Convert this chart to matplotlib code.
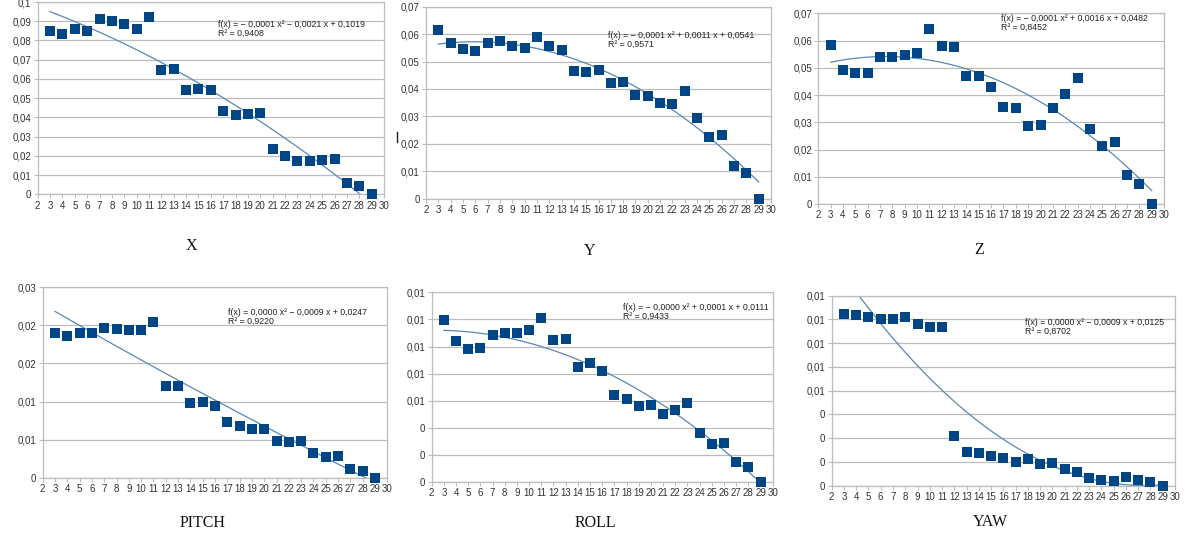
import numpy as np
import matplotlib
matplotlib.use("Agg")
import matplotlib.pyplot as plt

W, H = 1187, 540

# sample index on the x axis (same for every panel)
steps = np.arange(3, 30)

x_err = [0.0848, 0.0832, 0.0858, 0.0849, 0.0911, 0.0902, 0.0888, 0.0862, 0.0924,
         0.0647, 0.0652, 0.0541, 0.0549, 0.0544, 0.0433, 0.0410, 0.0419, 0.0422,
         0.0235, 0.0197, 0.0173, 0.0173, 0.0176, 0.0181, 0.0061, 0.0044, 0.0]
y_err = [0.0616, 0.0567, 0.0547, 0.0537, 0.0567, 0.0575, 0.0555, 0.0549, 0.0590,
         0.0555, 0.0543, 0.0467, 0.0461, 0.0471, 0.0421, 0.0424, 0.0377, 0.0374,
         0.0348, 0.0346, 0.0393, 0.0296, 0.0226, 0.0231, 0.0118, 0.0093, 0.0]
z_err = [0.0585, 0.0493, 0.0481, 0.0481, 0.0541, 0.0541, 0.0547, 0.0556, 0.0641,
         0.0581, 0.0575, 0.0471, 0.0469, 0.0431, 0.0355, 0.0352, 0.0285, 0.0289,
         0.0351, 0.0403, 0.0463, 0.0277, 0.0214, 0.0229, 0.0106, 0.0075, 0.0]
pitch_err = [0.01896, 0.01865, 0.01896, 0.01896, 0.01961, 0.01948, 0.0194, 0.0194, 0.0204,
             0.01208, 0.0120, 0.00981, 0.00994, 0.00941, 0.00727, 0.00683, 0.00635, 0.00635,
             0.00477, 0.00468, 0.00486, 0.0032, 0.00276, 0.00289, 0.00118, 0.00083, 0.0]
roll_err = [0.01193, 0.01041, 0.00979, 0.00989, 0.01085, 0.01097, 0.01097, 0.01122, 0.01213,
            0.01046, 0.01053, 0.00851, 0.00876, 0.00822, 0.00642, 0.00613, 0.00561, 0.00568,
            0.00504, 0.00529, 0.00581, 0.00359, 0.00278, 0.0029, 0.00145, 0.00108, 0.0]
yaw_err = [0.00769, 0.00762, 0.00755, 0.00747, 0.00747, 0.00755, 0.00725, 0.00711, 0.00711,
           0.00222, 0.00149, 0.00146, 0.00131, 0.00125, 0.00106, 0.00119, 0.00095, 0.00103,
           0.00076, 0.00061, 0.00034, 0.00027, 0.00022, 0.00039, 0.00024, 0.00016, 0.0]

titles = ["X", "Y", "Z", "PITCH", "ROLL", "YAW"]
series = [x_err, y_err, z_err, pitch_err, roll_err, yaw_err]

equations = [
    "f(x) = − 0,0001 x² − 0,0021 x + 0,1019\nR² = 0,9408",
    "f(x) = − 0,0001 x² + 0,0011 x + 0,0541\nR² = 0,9571",
    "f(x) = − 0,0001 x² + 0,0016 x + 0,0482\nR² = 0,8452",
    "f(x) = 0,0000 x² − 0,0009 x + 0,0247\nR² = 0,9220",
    "f(x) = − 0,0000 x² + 0,0001 x + 0,0111\nR² = 0,9433",
    "f(x) = 0,0000 x² − 0,0009 x + 0,0125\nR² = 0,8702",
]

y_ticks = [
    np.arange(0, 0.1001, 0.01),
    np.arange(0, 0.0701, 0.01),
    np.arange(0, 0.0701, 0.01),
    np.linspace(0, 0.025, 6),
    np.linspace(0, 0.014, 8),
    np.linspace(0, 0.0085, 9),
]
y_labels = [
    ["0", "0,01", "0,02", "0,03", "0,04", "0,05", "0,06", "0,07", "0,08", "0,09", "0,1"],
    ["0", "0,01", "0,02", "0,03", "0,04", "0,05", "0,06", "0,07"],
    ["0", "0,01", "0,02", "0,03", "0,04", "0,05", "0,06", "0,07"],
    ["0", "0,01", "0,01", "0,02", "0,02", "0,03"],
    ["0", "0", "0", "0,01", "0,01", "0,01", "0,01", "0,01"],
    ["0", "0", "0", "0", "0,01", "0,01", "0,01", "0,01", "0,01"],
]

# plot-area boxes in pixels: left, top, right, bottom
boxes = [
    (37.7, 2.0, 384, 194.3),
    (426, 6.7, 771, 198.7),
    (818.3, 13.3, 1164, 204),
    (42.7, 287.3, 387.3, 477.7),
    (431.7, 292.3, 772.7, 482),
    (831.7, 295.7, 1175, 485.7),
]
eq_pos = [(218, 29), (608, 40), (1001, 23), (228, 317), (623, 312), (1025, 327)]
title_pos = [(191, 246), (590, 251), (979, 250), (203, 523), (595, 523), (990, 522)]

blue = "#004586"
trend = "#5b87b3"
grid = "#bdbdbd"

fig = plt.figure(figsize=(W / 100, H / 100), dpi=100)
fig.patch.set_facecolor("white")

for i in range(6):
    l, t, r, b = boxes[i]
    ax = fig.add_axes([l / W, 1 - b / H, (r - l) / W, (b - t) / H])
    vals = np.array(series[i])

    # quadratic trend line over the sampled range
    coef = np.polyfit(steps, vals, 2)
    xs = np.linspace(steps[0], steps[-1], 200)
    ax.plot(xs, np.polyval(coef, xs), color=trend, lw=0.9, zorder=2)
    ax.scatter(steps, vals, marker="s", s=42, color=blue, linewidths=0, zorder=3,
               clip_on=False)

    ax.set_xlim(2, 30)
    ax.set_ylim(0, y_ticks[i][-1])
    ax.set_xticks(np.arange(2, 31))
    ax.set_yticks(y_ticks[i])
    ax.set_yticklabels(y_labels[i])
    ax.tick_params(axis="both", labelsize=7, colors=grid, labelcolor="#333333",
                   length=3, width=0.8, pad=1.5)
    for lab in ax.get_xticklabels() + ax.get_yticklabels():
        lab.set_fontfamily("Liberation Sans")
    ax.grid(axis="y", color=grid, lw=0.9)
    ax.set_axisbelow(True)
    for side in ["left", "bottom", "right", "top"]:
        ax.spines[side].set_color(grid)
        ax.spines[side].set_linewidth(0.9)

    ex, ey = eq_pos[i]
    fig.text(ex / W, 1 - ey / H, equations[i], fontsize=6.3, family="Liberation Sans",
             color="#222222", va="center", ha="left", linespacing=1.05)
    tx, ty = title_pos[i]
    fig.text(tx / W, 1 - ty / H, titles[i], fontsize=11.5, family="Liberation Serif",
             color="#111111", ha="center", va="center")

# small stray mark left of the Y panel
fig.add_artist(plt.Line2D([397 / W, 397 / W], [1 - 132 / H, 1 - 142 / H],
                          color="#222222", lw=1))

fig.savefig("out.png", dpi=100)
